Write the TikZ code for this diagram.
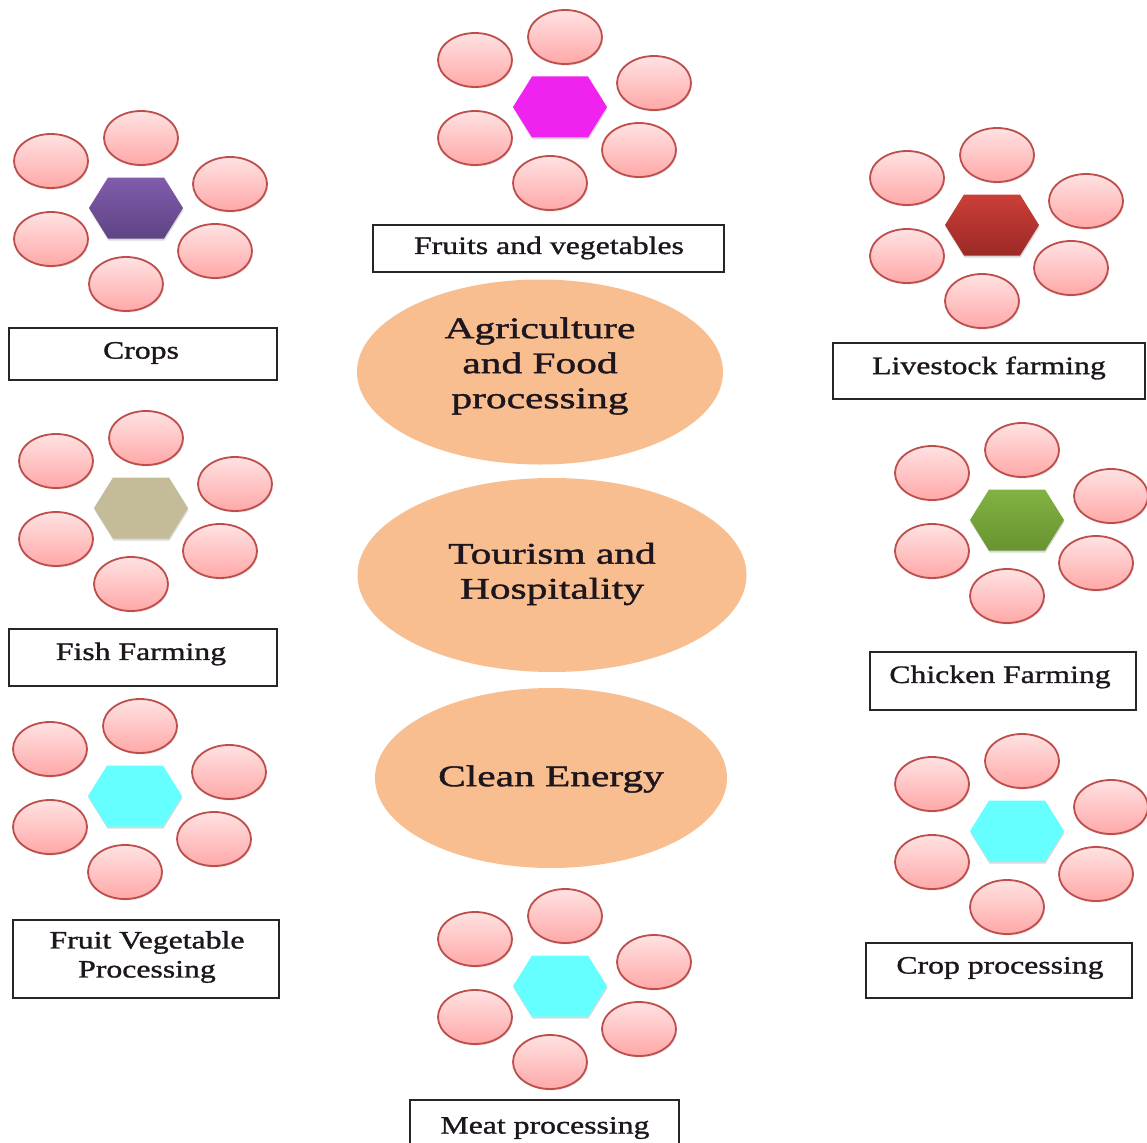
\documentclass[tikz,border=0pt]{standalone}
\usepackage{fontspec}
\setmainfont{Liberation Serif}
\newfontfamily\labelfont[FakeStretch=1.27,FakeBold=1.2]{Liberation Serif}
\newfontfamily\sectorfont[FakeStretch=1.38,FakeBold=1.4]{Liberation Serif}
\usetikzlibrary{shadows,shapes.geometric}

\definecolor{petaltop}{RGB}{255,226,226}
\definecolor{petalbottom}{RGB}{255,168,168}
\definecolor{petalline}{RGB}{190,78,75}
\definecolor{sectorfill}{RGB}{248,190,143}
\definecolor{hexmagenta}{RGB}{240,34,240}
\definecolor{hexpurpleA}{RGB}{128,92,172}
\definecolor{hexpurpleB}{RGB}{94,68,132}
\definecolor{hexredA}{RGB}{204,62,56}
\definecolor{hexredB}{RGB}{156,42,38}
\definecolor{hexkhaki}{RGB}{196,188,152}
\definecolor{hexgreenA}{RGB}{130,178,66}
\definecolor{hexgreenB}{RGB}{104,148,48}
\definecolor{hexcyan}{RGB}{102,255,255}
\definecolor{inktext}{RGB}{30,22,30}

\tikzset{
  petal/.style={ellipse, draw=petalline, line width=1.8pt,
    top color=petaltop, bottom color=petalbottom,
    minimum width=74pt, minimum height=54pt, inner sep=0pt,
    drop shadow={opacity=0.22, shadow xshift=1pt, shadow yshift=-1.5pt}},
  sector/.style={ellipse, fill=sectorfill, draw=none, inner sep=0pt},
  sectortext/.style={align=center, inner sep=0pt, text=inktext,
    font=\sectorfont\fontsize{30}{35}\selectfont},
  labelbox/.style={rectangle, draw=black!85, line width=2pt, fill=white,
    inner sep=0pt},
  labeltext/.style={align=center, inner sep=0pt, text=inktext,
    font=\labelfont\fontsize{25}{29}\selectfont},
  hexcore/.style={drop shadow={opacity=0.3, shadow xshift=0.5pt, shadow yshift=-2pt}},
  % six petals around a flattened hexagon; the argument colours the hexagon
  pics/petals/.style={code={
    \node[petal] (-n)  at (5,-70)  {};
    \node[petal] (-nw) at (-85,-47) {};
    \node[petal] (-ne) at (94,-24) {};
    \node[petal] (-sw) at (-85,31) {};
    \node[petal] (-se) at (79,43) {};
    \node[petal] (-s)  at (-10,76) {};
    \path[hexcore,#1] (-47,0) -- (-28,-30.5) -- (28,-30.5) -- (47,0)
      -- (28,30.5) -- (-28,30.5) -- cycle;
  }}
}

\begin{document}
\begin{tikzpicture}[x=1pt,y=-1pt]
\useasboundingbox (0,0) rectangle (1147,1142);
\fill[white] (0,0) rectangle (1147,1142);

% central sectors
\node[sector, minimum width=366pt, minimum height=185pt] (agri) at (540,372) {};
\node[sectortext] (agritext) at (540,366) {Agriculture\\and Food\\processing};
\node[sector, minimum width=389pt, minimum height=194pt] (tour) at (552,575) {};
\node[sectortext] (tourtext) at (552,574) {Tourism and\\Hospitality};
\node[sector, minimum width=352pt, minimum height=180pt] (energy) at (551,778) {};
\node[sectortext] (energytext) at (551,779) {Clean Energy};

% petal clusters
\pic (fv)     at (560,107) {petals={fill=hexmagenta}};
\pic (crops)  at (136,208) {petals={top color=hexpurpleA, bottom color=hexpurpleB}};
\pic (stock)  at (992,225) {petals={top color=hexredA, bottom color=hexredB}};
\pic (fish)   at (141,508) {petals={fill=hexkhaki}};
\pic (chick)  at (1017,520) {petals={top color=hexgreenA, bottom color=hexgreenB}};
\pic (fvp)    at (135,796) {petals={fill=hexcyan}};
\pic (cropp)  at (1017,831) {petals={fill=hexcyan}};
\pic (meat)   at (560,986) {petals={fill=hexcyan}};

% caption boxes
\node[labelbox, minimum width=351pt, minimum height=47pt] (fvbox) at (548.5,248.5) {};
\node[labeltext] (fvtext) at (549,248) {Fruits and vegetables};

\node[labelbox, minimum width=268pt, minimum height=52pt] (cropsbox) at (143,354) {};
\node[labeltext] (cropstext) at (141,353) {Crops};

\node[labelbox, minimum width=312pt, minimum height=56pt] (stockbox) at (989,371) {};
\node[labeltext] (stocktext) at (989,368) {Livestock farming};

\node[labelbox, minimum width=268pt, minimum height=57pt] (fishbox) at (143,657.5) {};
\node[labeltext] (fishtext) at (141,654) {Fish Farming};

\node[labelbox, minimum width=266pt, minimum height=58pt] (chickbox) at (1003,681) {};
\node[labeltext] (chicktext) at (1000,677) {Chicken Farming};

\node[labelbox, minimum width=266pt, minimum height=78pt] (fvpbox) at (146,959) {};
\node[labeltext] (fvptext) at (147,957) {Fruit Vegetable\\Processing};

\node[labelbox, minimum width=266pt, minimum height=55pt] (croppbox) at (999,970.5) {};
\node[labeltext] (cropptext) at (1000,968) {Crop processing};

\node[labelbox, minimum width=269pt, minimum height=52pt] (meatbox) at (544.5,1126) {};
\node[labeltext] (meattext) at (545,1128) {Meat processing};
\end{tikzpicture}
\end{document}
